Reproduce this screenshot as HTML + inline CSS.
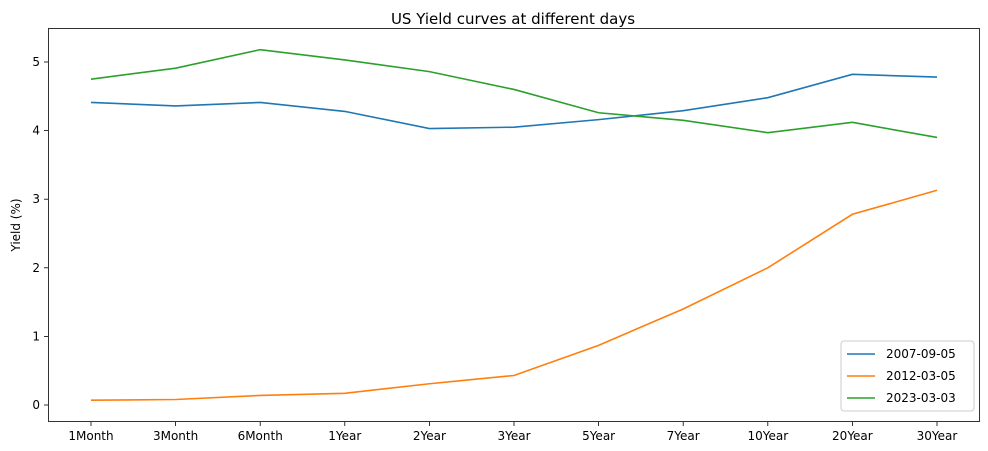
<!DOCTYPE html>
<html><head><meta charset="utf-8"><style>
body{margin:0;background:#fff;}
svg{display:block;font-family:"DejaVu Sans","Liberation Sans",sans-serif;}
</style></head><body>
<svg id="chart" width="988" height="451">
<text x="513" y="24" font-size="15" text-anchor="middle">US Yield curves at different days</text>
<text transform="translate(20,225) rotate(-90)" font-size="12" text-anchor="middle">Yield (%)</text>
<rect x="48.5" y="28.5" width="931" height="393" fill="none" stroke="#000" stroke-width="0.8"/>
<g id="axes"></g><g id="lines"></g>
<g id="legend">
<rect x="841" y="341" width="133" height="70" rx="3" fill="#fff" stroke="#ccc"/>
</g>
</svg>
<script>
const categories=["1Month","3Month","6Month","1Year","2Year","3Year","5Year","7Year","10Year","20Year","30Year"];
const seriesNames=["2007-09-05","2012-03-05","2023-03-03"];
const s2007=[4.41,4.36,4.41,4.28,4.03,4.05,4.16,4.29,4.48,4.82,4.78];
const s2012=[0.07,0.08,0.14,0.17,0.31,0.43,0.87,1.40,2.00,2.78,3.13];
const s2023=[4.75,4.91,5.18,5.03,4.86,4.60,4.26,4.15,3.97,4.12,3.90];
const yTicks=[0,1,2,3,4,5];
const colors=["#1f77b4","#ff7f0e","#2ca02c"];
const NS="http://www.w3.org/2000/svg";
const xScale=i=>91+i*(937-91)/(categories.length-1);
const yScale=v=>405-v*68.6;
function mk(t,a,p){const e=document.createElementNS(NS,t);for(const k in a)e.setAttribute(k,a[k]);p.appendChild(e);return e;}
const axes=document.getElementById('axes');
categories.forEach((c,i)=>{
 const x=xScale(i);
 const tk=mk('line',{x1:x,x2:x,y1:422,y2:426,stroke:'#000','stroke-width':0.8},axes);
 
 
 const t=mk('text',{x:x,y:440,'font-size':12,'text-anchor':'middle'},axes);t.textContent=c;
 
 
});
yTicks.forEach(v=>{
 const y=yScale(v);
 const tk=mk('line',{x1:44,x2:48,y1:y,y2:y,stroke:'#000','stroke-width':0.8},axes);
 
 
 const t=mk('text',{x:40,y:y+4,'font-size':12,'text-anchor':'end'},axes);t.textContent=v;
 
 
});
const lines=document.getElementById('lines');
[s2007,s2012,s2023].forEach((s,k)=>{
 const p=mk('polyline',{points:s.map((v,i)=>xScale(i)+','+yScale(v)).join(' '),fill:'none',stroke:colors[k],'stroke-width':1.6},lines);
 
 
});
const lg=document.getElementById('legend');
seriesNames.forEach((n,k)=>{
 const y=354+k*22;
 const l=mk('line',{x1:847,x2:875,y1:y,y2:y,stroke:colors[k],'stroke-width':1.6},lg);
 
 
 const t=mk('text',{x:886,y:y+4,'font-size':12},lg);t.textContent=n;
 
 
});
</script>
</body></html>
